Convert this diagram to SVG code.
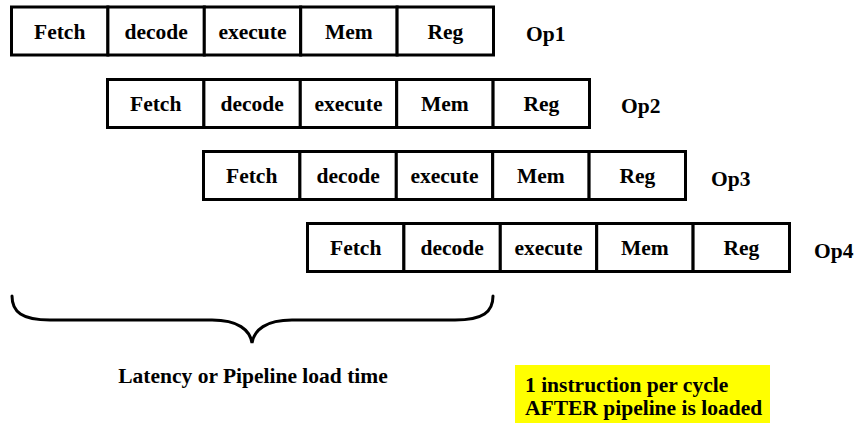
<svg xmlns="http://www.w3.org/2000/svg" width="855" height="423" viewBox="0 0 855 423">
  <style>
    .cell { fill: #ffffff; stroke: #000000; stroke-width: 3; }
    .t { font-family: 'Liberation Serif', serif; font-weight: 700; font-size: 21.5px; fill: #000000; }
    .c { text-anchor: middle; }
    .brace { fill: none; stroke: #000000; stroke-width: 3; stroke-linecap: round; }
  </style>
  <defs>
    <!-- one instruction: five pipeline stages, 96.4 px each -->
    <g id="stages">
      <rect class="cell" x="0" y="0" width="96.4" height="48"/>
      <rect class="cell" x="96.4" y="0" width="96.4" height="48"/>
      <rect class="cell" x="192.8" y="0" width="96.4" height="48"/>
      <rect class="cell" x="289.2" y="0" width="96.4" height="48"/>
      <rect class="cell" x="385.6" y="0" width="96.4" height="48"/>
      <text class="t c" x="48.2" y="31.5">Fetch</text>
      <text class="t c" x="144.6" y="31.5">decode</text>
      <text class="t c" x="241" y="31.5">execute</text>
      <text class="t c" x="337.4" y="31.5">Mem</text>
      <text class="t c" x="433.8" y="31.5">Reg</text>
    </g>
  </defs>

  <g id="op1">
    <use href="#stages" x="11.5" y="7"/>
    <text class="t" x="526" y="41">Op1</text>
  </g>
  <g id="op2">
    <use href="#stages" x="107.5" y="79.5"/>
    <text class="t" x="621" y="113">Op2</text>
  </g>
  <g id="op3">
    <use href="#stages" x="203.5" y="151.5"/>
    <text class="t" x="711" y="186">Op3</text>
  </g>
  <g id="op4">
    <use href="#stages" x="307.5" y="223.5"/>
    <text class="t" x="814" y="258">Op4</text>
  </g>

  <g id="connectors">
    <!-- curly brace under the first stages -->
    <path class="brace" d="M12 296 C12 312 22 320 50 320 L212 320 C238 320 250 330 252 343 C254 330 266 320 292 320 L455 320 C483 320 493 312 493 296"/>
  </g>

  <g id="latency">
    <text class="t c" x="253" y="383">Latency or Pipeline load time</text>
  </g>

  <g id="note">
    <rect x="515" y="365" width="255" height="58" fill="#ffff00"/>
    <text class="t" x="525" y="392">1 instruction per cycle</text>
    <text class="t" x="525" y="415">AFTER pipeline is loaded</text>
  </g>
</svg>
